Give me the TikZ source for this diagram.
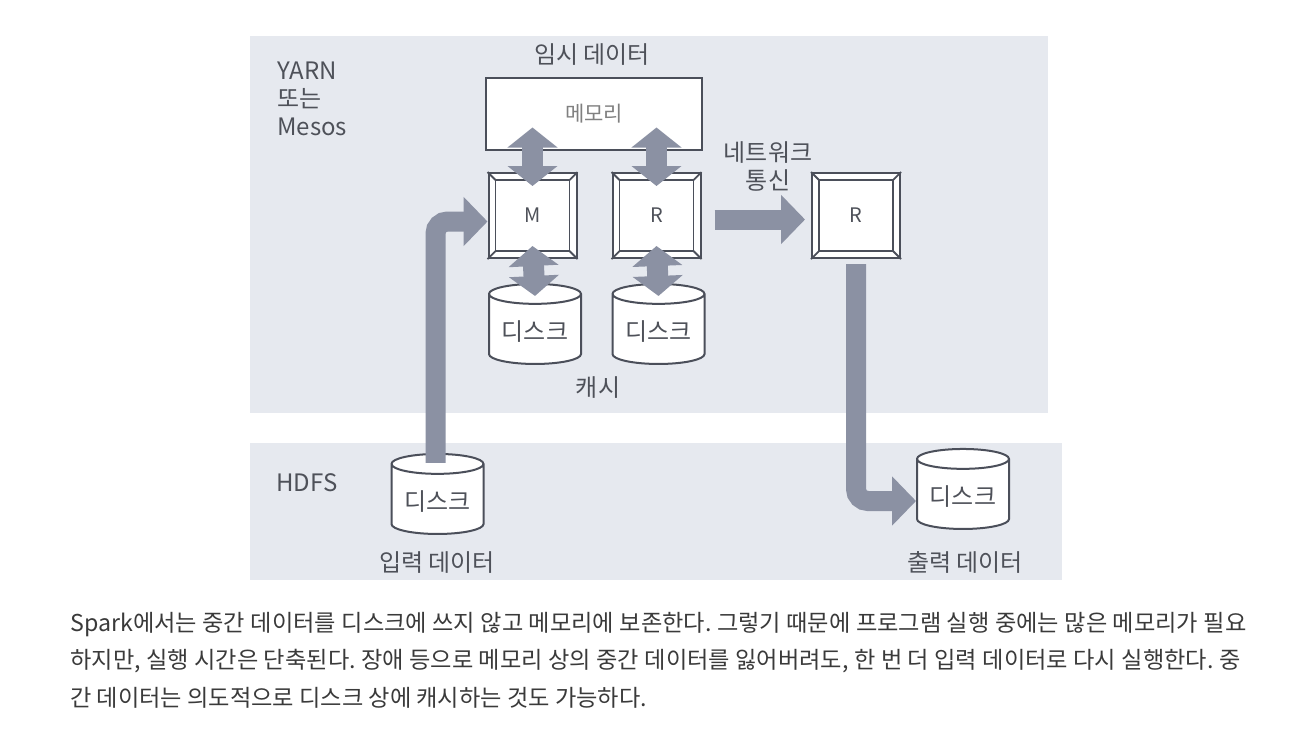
\documentclass[tikz,border=0pt]{standalone}
\usepackage{fontspec}
\setmainfont{Noto Sans CJK KR}
\usetikzlibrary{arrows.meta,shapes.geometric}
\definecolor{panelc}{HTML}{E6E9EF}
\definecolor{arrowc}{HTML}{8B91A3}
\definecolor{linec}{HTML}{4B4F5A}
\definecolor{textc}{HTML}{4E5159}
\definecolor{capc}{HTML}{3A3A3A}
\tikzset{
  lbl/.style={text=textc, font=\fontsize{12}{14}\selectfont},
  mem/.style={draw=linec, line width=1pt, fill=white, minimum width=108pt, minimum height=36pt, text=gray, font=\fontsize{10.5}{12}\selectfont},
  proc/.style={draw=linec, line width=1pt, fill=white, minimum width=44pt, minimum height=42.5pt, text=textc, font=\fontsize{10}{12}\selectfont},
  frame/.style={draw=linec, line width=0.9pt},
  disk/.style={cylinder, shape border rotate=90, aspect=0.25, draw=linec, line width=1pt, fill=white, minimum width=46pt, minimum height=40pt, text=textc, font=\fontsize{12}{13}\selectfont},
  fat/.style={draw=arrowc, line width=10pt, rounded corners=6pt, -{Triangle[width=24pt,length=12pt]}},
  dbl/.style={draw=arrowc, line width=10.5pt, {Triangle[width=24.5pt,length=10pt]}-{Triangle[width=24.5pt,length=10pt]}},
  captext/.style={text=capc, inner sep=0pt, font=\fontsize{11.6}{14}\selectfont}
}
% inner frame and corner lines of a task box
\newcommand{\bevelbox}[1]{%
  \draw[frame] ([shift={(4pt,-4pt)}]#1.north west) rectangle ([shift={(-4pt,4pt)}]#1.south east);
  \foreach \a/\sx/\sy in {north west/4pt/-4pt, north east/-4pt/-4pt, south west/4pt/4pt, south east/-4pt/4pt}
    {\draw[frame] (#1.\a) -- ++(\sx,\sy);}}
\frenchspacing
\begin{document}
\begin{tikzpicture}[x=0.5pt,y=-0.5pt]
\useasboundingbox (0,0) rectangle (1294,736);
\fill[panelc] (250,36) rectangle (1048,413);
\fill[panelc] (250,443) rectangle (1062,580);
% YARN / Mesos layer
\node[lbl, align=left, anchor=north west, inner sep=0pt] (yarn) at (277,61) {YARN\\또는\\Mesos};
\node[mem] (mem) at (594,113.5) {메모리};
\node[lbl] (tmp) at (592,55) {임시 데이터};
\node[proc] (M) at (532.5,215.5) {M};
\node[proc] (R) at (656.5,215.5) {R};
\node[proc] (R2) at (856,215.5) {R};
\foreach \n in {M,R,R2} {\bevelbox{\n}}
\node[disk] (d1) at (535,332) {디스크};
\node[disk] (d2) at (658.5,332) {디스크};
\node[lbl] (cache) at (598,388) {캐시};
\node[lbl, align=center] (net) at (768,166) {네트워크\\통신};
% HDFS layer
\node[lbl] (hdfs) at (307,483) {HDFS};
\node[disk] (din) at (437.5,502) {디스크};
\node[lbl] (inlbl) at (437,563) {입력 데이터};
\node[disk] (dout) at (963,497) {디스크};
\node[lbl] (outlbl) at (965,562) {출력 데이터};
% arrows
\draw[dbl] ([shift={(0,14)}]M.north) -- ([shift={(0,-23)}]mem.south -| M.north);
\draw[dbl] ([shift={(0,14)}]R.north) -- ([shift={(0,-23)}]mem.south -| R.north);
\draw[dbl] ([shift={(0,-13)}]M.south) -- ([shift={(0,13)}]d1.north);
\draw[dbl] ([shift={(0,-13)}]R.south) -- ([shift={(0,13)}]d2.north);
\draw[fat] ([shift={(-2,10)}]din.north) |- ([shift={(0,6)}]M.west);
\draw[fat, shorten <=6.5pt, shorten >=3pt] ([shift={(0,4)}]R.east) -- ([shift={(0,4)}]R2.west);
\draw[fat] ([shift={(0,5)}]R2.south) |- ([shift={(0,4)}]dout.west);
% caption
\node[captext, anchor=base west] (cap1) at (70,631) {\makebox[588pt][s]{Spark에서는 중간 데이터를 디스크에 쓰지 않고 메모리에 보존한다. 그렇기 때문에 프로그램 실행 중에는 많은 메모리가 필요}};
\node[captext, anchor=base west] (cap2) at (70,668.5) {\makebox[585pt][s]{하지만, 실행 시간은 단축된다. 장애 등으로 메모리 상의 중간 데이터를 잃어버려도, 한 번 더 입력 데이터로 다시 실행한다. 중}};
\node[captext, anchor=base west] (cap3) at (70,706) {간 데이터는 의도적으로 디스크 상에 캐시하는 것도 가능하다.};
\end{tikzpicture}
\end{document}
